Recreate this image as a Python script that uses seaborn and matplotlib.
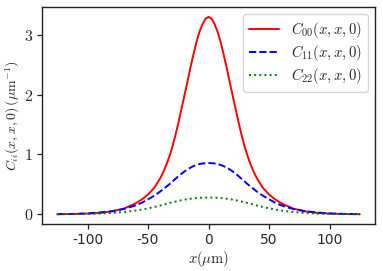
import numpy as np
import pandas as pd
import matplotlib
matplotlib.use('Agg')
import matplotlib.pyplot as plt
import seaborn as sns

sns.set_style('ticks')
plt.rcParams['font.family'] = ['DejaVu Sans']
plt.rcParams['mathtext.fontset'] = 'cm'

# Data ###################################################################
x_um = [-125, -110, -100, -90, -80, -70, -60, -55, -50, -45, -40, -37.5, -35,
        -32.5, -30, -27.5, -25, -22.5, -20, -17.5, -15, -12.5, -10, -7.5, -5,
        -2.5, 0, 2.5, 5, 7.5, 10, 12.5, 15, 17.5, 20, 22.5, 25, 27.5, 30,
        32.5, 35, 37.5, 40, 45, 50, 55, 60, 70, 80, 90, 100, 110, 125]

c00 = [0.002, 0.006, 0.012, 0.024, 0.048, 0.095, 0.185, 0.25, 0.33, 0.44,
       0.60, 0.70, 0.82, 0.96, 1.12, 1.31, 1.52, 1.75, 1.98, 2.21, 2.45, 2.67,
       2.88, 3.05, 3.18, 3.27, 3.30, 3.27, 3.18, 3.05, 2.88, 2.67, 2.45, 2.21,
       1.98, 1.75, 1.52, 1.31, 1.12, 0.96, 0.82, 0.70, 0.60, 0.44, 0.33, 0.25,
       0.185, 0.095, 0.048, 0.024, 0.012, 0.006, 0.002]

c11 = [0.003, 0.008, 0.015, 0.030, 0.052, 0.088, 0.150, 0.195, 0.25, 0.31,
       0.38, 0.42, 0.46, 0.50, 0.545, 0.59, 0.635, 0.675, 0.715, 0.75, 0.78,
       0.805, 0.825, 0.84, 0.85, 0.855, 0.857, 0.855, 0.85, 0.84, 0.825,
       0.805, 0.78, 0.75, 0.715, 0.675, 0.635, 0.59, 0.545, 0.50, 0.46, 0.42,
       0.38, 0.31, 0.25, 0.195, 0.150, 0.088, 0.052, 0.030, 0.015, 0.008,
       0.003]

c22 = [0.001, 0.003, 0.006, 0.011, 0.021, 0.038, 0.063, 0.080, 0.100, 0.122,
       0.147, 0.160, 0.175, 0.188, 0.200, 0.212, 0.224, 0.235, 0.245, 0.253,
       0.261, 0.267, 0.272, 0.276, 0.278, 0.279, 0.280, 0.279, 0.278, 0.276,
       0.272, 0.267, 0.261, 0.253, 0.245, 0.235, 0.224, 0.212, 0.200, 0.188,
       0.175, 0.160, 0.147, 0.122, 0.100, 0.080, 0.063, 0.038, 0.021, 0.011,
       0.006, 0.003, 0.001]

x_ticks = [-100, -50, 0, 50, 100]
x_tick_labels = ['-100', '-50', '0', '50', '100']
y_ticks = [0, 1, 2, 3]

series_labels = [r'$C_{00}(x,x,0)$', r'$C_{11}(x,x,0)$', r'$C_{22}(x,x,0)$']
##########################################################################

fig = plt.figure(figsize=(3.83, 2.71), dpi=100)
ax = fig.add_axes([0.110, 0.173, 0.869, 0.801])

styles = [('red', '-'), ('blue', '--'), ('green', ':')]
for vals, lab, (col, ls) in zip([c00, c11, c22], series_labels, styles):
    sns.lineplot(x=x_um, y=vals, ax=ax, color=col, linestyle=ls, lw=1.4,
                 label=lab)

ax.set_xticks(x_ticks)
ax.set_xticklabels(x_tick_labels, fontsize=10)
ax.set_yticks(y_ticks)
ax.set_yticklabels([f'${v}$' for v in y_ticks], fontsize=11.5)
ax.margins(x=0.05, y=0.05)

for sp in ax.spines.values():
    sp.set_color('#222222')
    sp.set_linewidth(1.0)
ax.tick_params(length=3.5, width=0.9, color='#222222', pad=3)

ax.set_xlabel(r'$x(\mu\mathrm{m})$', fontsize=10.5, labelpad=1)
ax.set_ylabel(r'$C_{ii}(x,x,0)\,(\mu\mathrm{m}^{-1})$', fontsize=10,
              labelpad=1)

ax.legend(loc='upper right', frameon=True, fontsize=10.6, handlelength=2.0,
          borderaxespad=0.5, labelspacing=0.2, handletextpad=0.8)

fig.savefig('out.png', dpi=100)
